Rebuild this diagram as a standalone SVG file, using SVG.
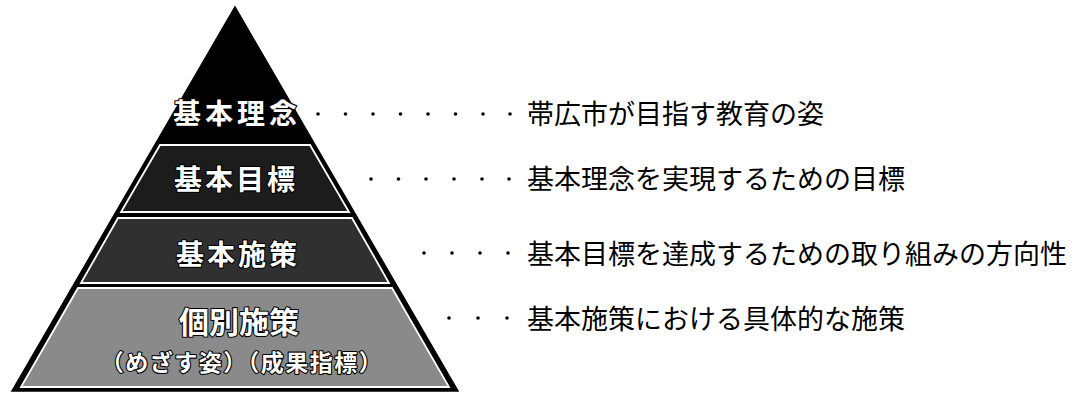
<svg xmlns="http://www.w3.org/2000/svg" width="1088" height="393" viewBox="0 0 1088 393">
<style>
.lbl{font-family:"Noto Sans CJK JP","Noto Sans CJK SC",sans-serif;font-weight:700;fill:#ffffff;stroke:#000000;stroke-width:2.2;paint-order:stroke;stroke-linejoin:round;text-anchor:middle}
.desc{font-family:"Noto Sans CJK JP","Noto Sans CJK SC",sans-serif;font-size:27px;fill:#000000}
.band{stroke:#ffffff;stroke-width:1.8}
.dot{fill:#000000}
</style>
<rect width="1088" height="393" fill="#ffffff"/>
<g id="pyramid">
<polygon points="235,7 12,391 458,391" fill="#000000" stroke="#000000" stroke-width="1.5"/>
</g>
<g id="layer1">
<text class="lbl" x="237" y="124" font-size="28" letter-spacing="4">基本理念</text>
</g>
<g id="layer2">
<polygon class="band" points="160,145 310,145 349,212 121,212" fill="#1c1c1c"/>
<text class="lbl" x="236" y="190" font-size="28" letter-spacing="3">基本目標</text>
</g>
<g id="layer3">
<polygon class="band" points="118,218 352,218 389,283 81,283" fill="#303030"/>
<text class="lbl" x="238" y="265" font-size="28" letter-spacing="3">基本施策</text>
</g>
<g id="layer4">
<polygon class="band" points="78,288 392,288 449,387 21,387" fill="#8a8a8a"/>
<text class="lbl" x="239" y="333" font-size="30" letter-spacing="0">個別施策</text>
<text class="lbl" x="242" y="371" font-size="23" stroke-width="2" letter-spacing="1.5">（めざす姿）（成果指標）</text>
</g>
<g id="connectors">
<g class="dot">
<circle cx="318" cy="114" r="1.8"/><circle cx="345.5" cy="114" r="1.8"/><circle cx="373" cy="114" r="1.8"/><circle cx="400.5" cy="114" r="1.8"/><circle cx="428" cy="114" r="1.8"/><circle cx="455.5" cy="114" r="1.8"/><circle cx="483" cy="114" r="1.8"/><circle cx="510" cy="114" r="1.8"/>
<circle cx="371" cy="179" r="1.8"/><circle cx="398.5" cy="179" r="1.8"/><circle cx="426" cy="179" r="1.8"/><circle cx="454" cy="179" r="1.8"/><circle cx="482" cy="179" r="1.8"/><circle cx="509" cy="179" r="1.8"/>
<circle cx="424" cy="253" r="1.8"/><circle cx="452" cy="253" r="1.8"/><circle cx="480" cy="253" r="1.8"/><circle cx="508" cy="253" r="1.8"/>
<circle cx="449" cy="318" r="1.8"/><circle cx="478" cy="318" r="1.8"/><circle cx="507" cy="318" r="1.8"/>
</g>
</g>
<g id="descriptions">
<text class="desc" x="527" y="124">帯広市が目指す教育の姿</text>
<text class="desc" x="527" y="189">基本理念を実現するための目標</text>
<text class="desc" x="527" y="264">基本目標を達成するための取り組みの方向性</text>
<text class="desc" x="527" y="329">基本施策における具体的な施策</text>
</g>
</svg>
